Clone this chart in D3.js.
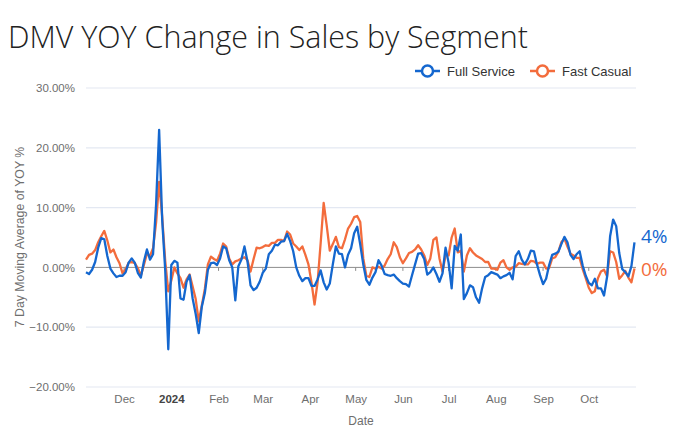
<!DOCTYPE html>
<html>
<head>
<meta charset="utf-8">
<script src="https://cdn.jsdelivr.net/npm/d3@7"></script>
<style>
  html, body { margin: 0; padding: 0; background: #fff; }
  svg { display: block; }
</style>
</head>
<body>
<div id="chart"></div>
<script>
// ---------- DATA ----------
const startDate = "2023-11-06";   // first observation
const stepDays = 2;               // one observation every two days
const monthTicks = ["2023-12-01","2024-01-01","2024-02-01","2024-03-01","2024-04-01","2024-05-01",
                    "2024-06-01","2024-07-01","2024-08-01","2024-09-01","2024-10-01"];
const yTicks = [-20, -10, 0, 10, 20, 30];
const seriesNames = ["Full Service", "Fast Casual"];

const fullService = [
-0.8,-1.1,-0.4,0.9,3.3,4.9,4.7,1.9,-0.2,-1.0,
-1.6,-1.4,-1.4,-0.8,0.8,1.5,0.8,-0.9,-1.7,1.0,
3.0,1.3,2.2,10.5,23.0,8.0,-0.5,-13.7,0.4,1.1,
0.8,-5.2,-5.4,-2.4,-1.3,-5.2,-7.8,-11.0,-6.6,-4.3,
-0.4,0.7,0.8,0.4,1.5,3.5,3.2,1.2,0.0,-5.5,
0.2,1.3,3.5,1.0,-3.0,-3.8,-3.4,-2.4,-0.9,-0.2,
2.2,2.8,3.8,3.7,4.3,4.4,5.6,4.4,2.7,0.0,
-1.4,-2.3,-1.8,-1.8,-3.1,-3.1,-2.0,-0.5,-2.5,-3.7,
-2.7,0.5,3.5,2.3,2.2,0.0,2.1,3.2,5.7,6.8,
3.8,0.5,-2.1,-2.9,-1.7,-0.8,1.2,0.3,-1.1,-1.3,
-1.4,-1.2,-1.8,-2.3,-2.7,-2.8,-3.2,-1.3,0.5,2.3,
2.4,1.4,-1.2,-0.8,0.0,-1.1,-2.4,-1.0,3.3,0.8,
-3.5,3.6,2.8,5.5,-5.3,-4.3,-3.0,-3.3,-5.0,-5.9,
-3.5,-1.6,-1.3,-0.8,-1.0,-1.2,-1.8,-1.5,-1.3,-0.9,
-2.0,1.9,2.7,1.3,0.5,1.4,2.8,2.7,0.5,-1.3,
-2.8,-1.9,0.4,2.1,2.3,2.6,3.9,5.1,4.2,2.1,
1.4,2.2,2.7,0.3,-1.4,-2.6,-3.0,-1.9,-3.5,-3.5,
-4.7,-1.6,5.2,8.0,6.9,2.4,-0.3,-0.8,-1.5,0.2,
4.2
];

const fastCasual = [
1.3,2.1,2.3,2.9,4.2,5.2,6.1,4.5,2.5,3.0,
1.7,0.7,-1.0,-0.3,0.8,0.9,0.7,-0.1,-1.4,0.4,
2.3,1.9,3.2,7.5,14.3,8.5,1.1,-4.0,-2.2,0.0,
-1.0,-1.8,-3.4,-2.0,-1.2,-3.2,-5.3,-9.0,-6.4,-3.6,
0.5,1.8,1.4,1.1,2.3,4.0,3.5,1.5,0.5,1.0,
1.2,1.5,1.7,1.2,-0.7,1.4,3.3,3.2,3.4,3.7,
3.6,4.1,4.1,4.6,4.6,4.4,6.0,5.5,4.0,3.5,
2.9,3.5,2.1,0.5,-2.5,-6.2,-2.5,4.0,10.8,7.0,
2.8,3.9,5.1,3.4,3.2,4.7,6.5,7.3,8.4,8.6,
7.6,1.5,-1.4,-1.6,0.0,-0.2,0.1,-0.2,0.3,1.4,
2.2,4.2,3.4,1.7,0.7,1.5,2.4,2.6,3.0,3.7,
3.0,2.0,0.4,1.5,4.6,5.0,1.5,-0.7,2.0,2.0,
5.0,6.5,2.5,2.8,-0.7,2.0,3.2,2.5,2.0,1.7,
1.4,0.9,0.9,-0.2,-0.2,-0.4,0.8,1.2,0.0,-0.4,
0.0,0.1,0.7,0.6,0.5,0.5,1.1,1.0,0.6,0.8,
0.8,-0.2,-0.1,1.5,1.7,2.6,4.2,4.8,3.5,2.3,
2.0,1.6,1.6,-0.3,-1.8,-3.4,-4.3,-4.0,-1.8,-0.7,
-0.4,-1.5,2.7,2.5,0.9,-1.9,-1.3,-0.6,-1.7,-2.5,
-0.2
];

// ---------- CHART ----------
const W = 676, H = 436;
const colors = { "Full Service": "#1467cf", "Fast Casual": "#f36c3c" };
const parse = d3.timeParse("%Y-%m-%d");
const t0 = parse(startDate);
const dates = fullService.map((_, i) => d3.timeDay.offset(t0, i * stepDays));

const svg = d3.select("#chart").append("svg").attr("width", W).attr("height", H);

const x = d3.scaleTime().domain([t0, parse("2024-11-01")]).range([86, 636]);
const y = d3.scaleLinear().domain([-20, 30]).range([387, 88]);

// title
svg.append("text")
  .attr("x", 8).attr("y", 48)
  .attr("font-family", "'Open Sans', 'Lato', sans-serif")
  .attr("font-weight", 300)
  .attr("font-size", 31)
  .attr("fill", "#222")
  .attr("textLength", 520)
  .attr("lengthAdjust", "spacingAndGlyphs")
  .text("DMV YOY Change in Sales by Segment");

// y axis labels
const yAxis = d3.axisLeft(y).tickValues(yTicks).tickSize(0)
  .tickFormat(d => d3.format(".2f")(d) + "%");
const gy = svg.append("g").attr("transform", "translate(78,0)").call(yAxis);
gy.select(".domain").remove();
gy.selectAll("text")
  .attr("font-family", "'Liberation Sans', Arial, sans-serif")
  .attr("font-size", 11.5).attr("fill", "#6e6e6e").attr("dx", 0);

// gridlines
svg.append("g").selectAll("line").data(yTicks.filter(d => d !== 0)).join("line")
  .attr("x1", 86).attr("x2", 636)
  .attr("y1", d => y(d)).attr("y2", d => y(d))
  .attr("stroke", "#e3e8f2").attr("stroke-width", 1.2);

// zero line with month ticks
svg.append("line")
  .attr("x1", 86).attr("x2", 636).attr("y1", y(0)).attr("y2", y(0))
  .attr("stroke", "#8c8c8c").attr("stroke-width", 1);
const monthDates = monthTicks.map(parse);
svg.append("g").selectAll("line").data(monthDates).join("line")
  .attr("x1", d => x(d)).attr("x2", d => x(d))
  .attr("y1", y(0)).attr("y2", y(0) + 3.5)
  .attr("stroke", "#8c8c8c").attr("stroke-width", 1);

// x axis labels
const xAxis = d3.axisBottom(x).tickValues(monthDates).tickSize(0)
  .tickFormat(d => d.getMonth() === 0 ? d3.timeFormat("%Y")(d) : d3.timeFormat("%b")(d));
const gx = svg.append("g").attr("transform", "translate(0,392)").call(xAxis);
gx.select(".domain").remove();
gx.selectAll("text")
  .attr("font-family", "'Liberation Sans', Arial, sans-serif")
  .attr("font-size", 11.5)
  .attr("fill", d => d.getMonth() === 0 ? "#444" : "#6e6e6e")
  .attr("font-weight", d => d.getMonth() === 0 ? "bold" : "normal");

// axis titles
svg.append("text")
  .attr("x", 361).attr("y", 425).attr("text-anchor", "middle")
  .attr("font-family", "'Liberation Sans', Arial, sans-serif")
  .attr("font-size", 12).attr("fill", "#6e6e6e").text("Date");
svg.append("text")
  .attr("transform", "translate(24,237) rotate(-90)").attr("text-anchor", "middle")
  .attr("font-family", "'Liberation Sans', Arial, sans-serif")
  .attr("font-size", 12.3).attr("fill", "#6e6e6e").text("7 Day Moving Average of YOY %");

// lines
const line = d3.line().x((d, i) => x(dates[i])).y(d => y(d));
const seriesData = { "Full Service": fullService, "Fast Casual": fastCasual };
["Fast Casual", "Full Service"].forEach(name => {
  svg.append("path")
    .datum(seriesData[name])
    .attr("d", line)
    .attr("fill", "none")
    .attr("stroke", colors[name])
    .attr("stroke-width", 2.3)
    .attr("stroke-linejoin", "round");
});

// end labels
const lastFull = fullService[fullService.length - 1];
const lastFast = fastCasual[fastCasual.length - 1];
svg.append("text")
  .attr("x", 641).attr("y", y(lastFull) + 1)
  .attr("font-family", "'Open Sans', 'Lato', sans-serif")
  .attr("font-size", 19).attr("fill", colors["Full Service"])
  .text(`${Math.round(lastFull)}%`);
svg.append("text")
  .attr("x", 641).attr("y", y(lastFast) + 7)
  .attr("font-family", "'Open Sans', 'Lato', sans-serif")
  .attr("font-size", 19).attr("fill", colors["Fast Casual"])
  .text(`${Math.round(lastFast)}%`);

// legend
const legendX = [415, 530];
seriesNames.forEach((name, i) => {
  const g = svg.append("g").attr("transform", `translate(${legendX[i]},71)`);
  g.append("line").attr("x1", 0).attr("x2", 25).attr("y1", 0).attr("y2", 0)
    .attr("stroke", colors[name]).attr("stroke-width", 2.5);
  g.append("circle").attr("cx", 12.5).attr("cy", 0).attr("r", 5.5)
    .attr("fill", "#fff").attr("stroke", colors[name]).attr("stroke-width", 2.5);
  g.append("text").attr("x", 32).attr("y", 4.5)
    .attr("font-family", "'Liberation Sans', Arial, sans-serif")
    .attr("font-size", 13).attr("fill", "#333").text(name);
});
</script>
</body>
</html>
